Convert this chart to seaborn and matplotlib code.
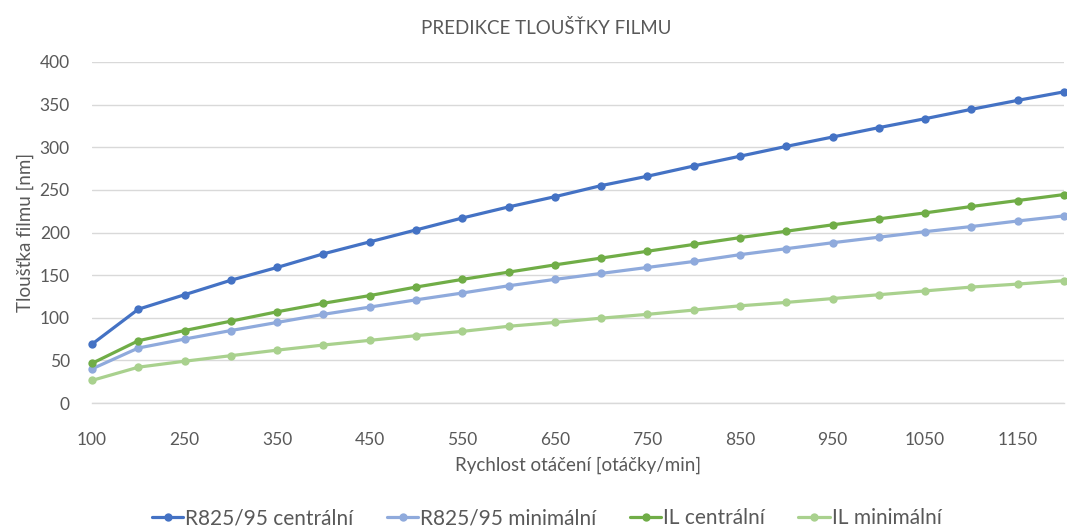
import matplotlib
matplotlib.use("Agg")
import matplotlib.pyplot as plt
import seaborn as sns
import pandas as pd
import numpy as np

# Rotation speeds (categories on the x axis)
speeds = [100, 200, 250, 300, 350, 400, 450, 500, 550, 600, 650,
          700, 750, 800, 850, 900, 950, 1000, 1050, 1100, 1150, 1200]

# Predicted film thickness [nm]
r825_central = [69, 110, 127, 144, 159, 175, 189, 203, 217, 230, 242,
                255, 266, 278, 289.5, 301, 312, 323, 333.5, 344.5, 355, 365]
r825_minimal = [40, 64.5, 75, 85, 94.5, 104, 112.5, 121, 129, 137.5, 145,
                152, 159, 166, 174, 181, 188, 194.5, 201, 207, 213.5, 219.5]
il_central = [46.5, 73, 85, 96, 107, 117, 126, 136, 145, 153.5, 162,
              170, 178, 186, 194, 201.5, 209, 216, 223, 230.5, 237.5, 244.5]
il_minimal = [26.5, 42, 49, 55.5, 62, 68, 73.5, 79, 84, 90, 94.5,
              99.5, 104, 109, 114, 118, 122.5, 127, 131.5, 136, 139.5, 143.5]

series_names = ["R825/95 centrální", "R825/95 minimální", "IL centrální", "IL minimální"]
series_values = [r825_central, r825_minimal, il_central, il_minimal]
colors = ["#4472C4", "#8FAADC", "#70AD47", "#A9D18E"]

frames = []
for name, vals in zip(series_names, series_values):
    frames.append(pd.DataFrame({"pos": np.arange(len(speeds)),
                                "thickness": vals,
                                "series": name}))
df = pd.concat(frames, ignore_index=True)

sns.set_theme(style="white")
plt.rcParams["font.family"] = ["Lato", "DejaVu Sans"]
text_color = "#595959"

fig = plt.figure(figsize=(10.67, 5.30), dpi=100)
ax = fig.add_axes([92 / 1067, 127 / 530, 972 / 1067, 341 / 530])

sns.lineplot(data=df, x="pos", y="thickness", hue="series",
             hue_order=series_names, palette=colors, marker="o",
             markersize=6, markeredgewidth=0, linewidth=2.3,
             ax=ax, clip_on=False, zorder=3)

ax.set_xlim(0, len(speeds) - 1)
ax.set_ylim(0, 400)
ax.set_yticks(np.arange(0, 401, 50))
ax.yaxis.grid(True, color="#D9D9D9", linewidth=1.0)
ax.xaxis.grid(False)
for side in ["top", "right", "left"]:
    ax.spines[side].set_visible(False)
ax.spines["bottom"].set_color("#D9D9D9")
ax.spines["bottom"].set_linewidth(1.0)

tick_pos = np.arange(0, len(speeds), 2)
ax.set_xticks(tick_pos)
ax.set_xticklabels([str(speeds[i]) for i in tick_pos])
ax.tick_params(axis="both", length=0, labelsize=12.5, colors=text_color)
ax.tick_params(axis="x", pad=21)
ax.tick_params(axis="y", pad=16)

ax.set_xlabel("Rychlost otáčení [otáčky/min]", fontsize=13.5, color=text_color, labelpad=6)
ax.set_ylabel("Tloušťka filmu [nm]", fontsize=13.5, color=text_color, labelpad=4)
fig.text(0.512, 0.948, "PREDIKCE TLOUŠŤKY FILMU", ha="center", va="center",
         fontsize=13.5, color=text_color)

leg = ax.legend(loc="center", bbox_to_anchor=(0.5 - 0.032, -0.338), ncol=4,
                frameon=False, fontsize=15, handlelength=1.5,
                handletextpad=0.1, columnspacing=1.6)
for t in leg.get_texts():
    t.set_color(text_color)

fig.savefig("out.png", dpi=100)
